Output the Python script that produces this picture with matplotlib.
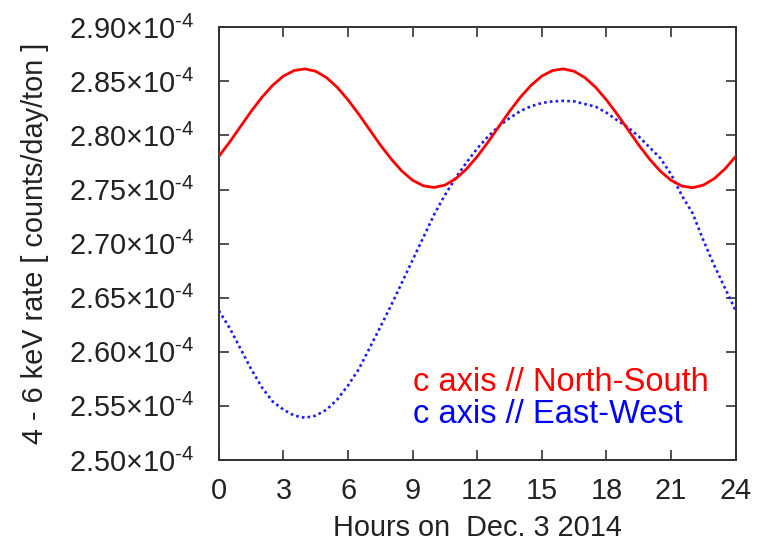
import matplotlib
matplotlib.use("Agg")
import matplotlib.pyplot as plt
import matplotlib.ticker as tkr

plt.rcParams["font.family"] = ["Liberation Sans", "DejaVu Sans"]
plt.rcParams["mathtext.fontset"] = "custom"
plt.rcParams["mathtext.rm"] = "Liberation Sans"
plt.rcParams["mathtext.it"] = "Liberation Sans:italic"
plt.rcParams["mathtext.bf"] = "Liberation Sans:bold"

# hours on Dec. 3 2014, half-hour steps
hours = [0.5 * i for i in range(49)]

# 4-6 keV rate in units of 1e-4 counts/day/ton
rate_ns = [
    2.7806, 2.7939, 2.8081, 2.8223, 2.8353, 2.8464, 2.8549, 2.8600, 2.8615,
    2.8593, 2.8534, 2.8444, 2.8328, 2.8195, 2.8053, 2.7911, 2.7783, 2.7670,
    2.7585, 2.7534, 2.7519, 2.7541, 2.7600, 2.7690, 2.7806, 2.7939, 2.8081,
    2.8223, 2.8353, 2.8464, 2.8549, 2.8600, 2.8615, 2.8593, 2.8534, 2.8444,
    2.8328, 2.8195, 2.8053, 2.7911, 2.7781, 2.7670, 2.7585, 2.7532, 2.7517,
    2.7541, 2.7600, 2.7690, 2.7806,
]
rate_ew = [
    2.6380, 2.6220, 2.6030, 2.5840, 2.5670, 2.5540, 2.5465, 2.5410, 2.5390,
    2.5410, 2.5465, 2.5560, 2.5690, 2.5840, 2.6035, 2.6230, 2.6430, 2.6640,
    2.6850, 2.7060, 2.7270, 2.7450, 2.7610, 2.7750, 2.7880, 2.7990, 2.8085,
    2.8160, 2.8225, 2.8270, 2.8300, 2.8315, 2.8320, 2.8315, 2.8290, 2.8265,
    2.8210, 2.8140, 2.8075, 2.7990, 2.7890, 2.7790, 2.7640, 2.7445, 2.7280,
    2.7030, 2.6800, 2.6590, 2.6380,
]

x_ticks = [0, 3, 6, 9, 12, 15, 18, 21, 24]
y_ticks = [2.50, 2.55, 2.60, 2.65, 2.70, 2.75, 2.80, 2.85, 2.90]

text_col = "#222222"
fig = plt.figure(figsize=(7.6, 5.45), dpi=100)
ax = fig.add_axes([0.288, 0.156, 0.680, 0.794])

ax.plot(hours, rate_ns, color="#ff0000", linewidth=2.0, zorder=3)
ax.plot(hours, rate_ew, color="#1a1aff", linewidth=1.9,
        linestyle=(0, (1, 1.2)), zorder=2)

ax.set_xlim(0, 24)
ax.set_ylim(2.50, 2.90)
ax.set_xticks(x_ticks)
ax.set_yticks(y_ticks)
# hyphen (not minus) in the exponent
ax.yaxis.set_major_formatter(
    tkr.FuncFormatter(lambda v, pos: "%.2f\u00d710$^{\u20104}$" % v))

ax.tick_params(direction="in", length=7, width=1.2, color="#333333",
               top=True, right=True, labelsize=20.8, labelcolor=text_col)
ax.tick_params(axis="x", pad=12)
ax.tick_params(axis="y", pad=18)
for sp in ax.spines.values():
    sp.set_linewidth(1.4)
    sp.set_color("#333333")

ax.set_xlabel("Hours on  Dec. 3 2014", fontsize=20.8, color=text_col,
              labelpad=7)
ax.set_ylabel("4 - 6 keV rate [ counts/day/ton ]", fontsize=20.8,
              color=text_col, labelpad=14)

ax.text(0.376, 0.178, "c axis // North-South", transform=ax.transAxes,
        color="#ff0000", fontsize=23.5, va="center", ha="left")
ax.text(0.376, 0.106, "c axis // East-West", transform=ax.transAxes,
        color="#0000ff", fontsize=23.5, va="center", ha="left")

fig.savefig("out.png", dpi=100)
